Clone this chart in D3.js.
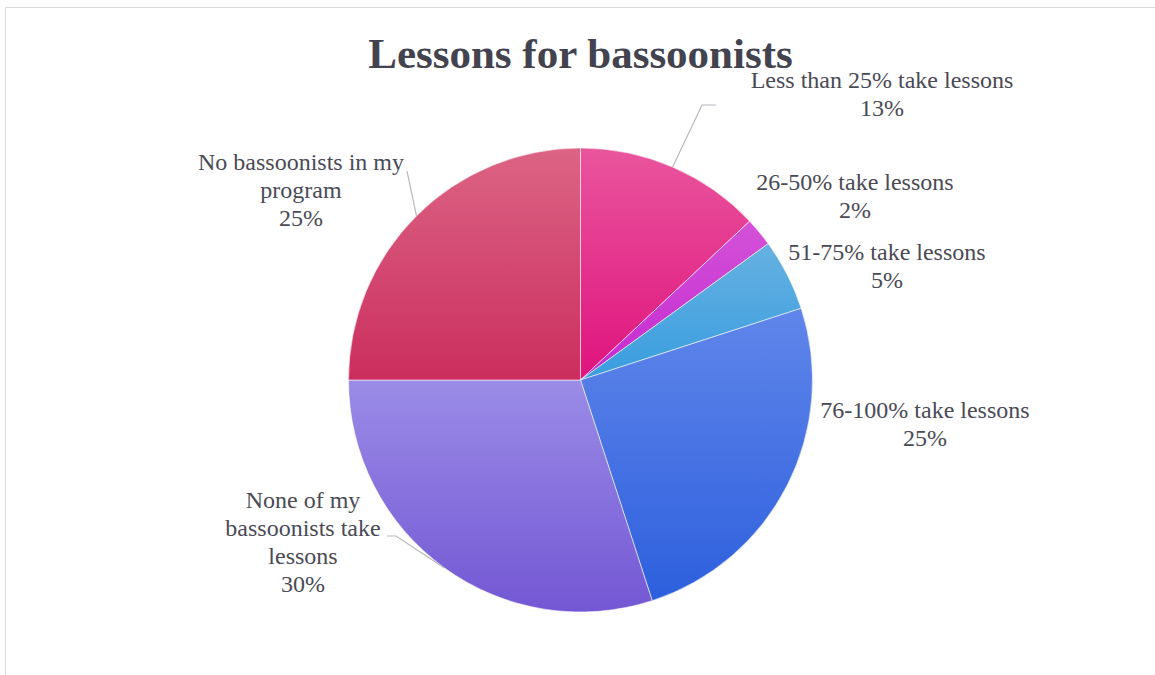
<!DOCTYPE html>
<html>
<head>
<meta charset="utf-8">
<script src="https://cdn.jsdelivr.net/npm/d3@7"></script>
<style>
  html, body { margin: 0; padding: 0; background: #fff; }
  svg { display: block; }
  text { font-family: "Liberation Serif", "Times New Roman", serif; }
</style>
</head>
<body>
<svg id="chart" width="1155" height="675"></svg>
<script>
// Survey answers: share of bassoonists taking private lessons
const categories = [
  "Less than 25% take lessons",
  "26-50% take lessons",
  "51-75% take lessons",
  "76-100% take lessons",
  "None of my bassoonists take lessons",
  "No bassoonists in my program"
];
const values = [13, 2, 5, 25, 30, 25];
// Label text split into lines as it is wrapped on the chart
const labelLines = [
  ["Less than 25% take lessons"],
  ["26-50% take lessons"],
  ["51-75% take lessons"],
  ["76-100% take lessons"],
  ["None of my", "bassoonists take", "lessons"],
  ["No bassoonists in my", "program"]
];
// Slice fills: [top, bottom] of each vertical gradient
const sliceColors = [
  ["#e9559d", "#df137d"],
  ["#d352d8", "#c428d0"],
  ["#66b1e1", "#389ddf"],
  ["#6086ea", "#2d5fdd"],
  ["#9b8ce7", "#7357d4"],
  ["#dc6484", "#cb2e5e"]
];

const W = 1155, H = 675;
const cx = 580.5, cy = 380, R = 232;

// Label block centres (x, y of first baseline) and leader-line elbows
const labelLayout = [
  { x: 882, y: 88,  leader: [[702, 105], [716, 105]] },
  { x: 855, y: 190, leader: null },
  { x: 887, y: 260, leader: null },
  { x: 925, y: 418, leader: null },
  { x: 303, y: 508, leader: [[396, 536], [387, 536]] },
  { x: 301, y: 170, leader: [[407, 171]] }
];

const svg = d3.select("#chart");

// Chart area frame
svg.append("path")
  .attr("d", `M5.5,${H} L5.5,7.5 L${W},7.5`)
  .attr("fill", "none")
  .attr("stroke", "#d9d9d9")
  .attr("stroke-width", 1);

const defs = svg.append("defs");
sliceColors.forEach((c, i) => {
  const g = defs.append("linearGradient")
    .attr("id", "grad" + i)
    .attr("x1", 0).attr("y1", 0).attr("x2", 0).attr("y2", 1);
  g.append("stop").attr("offset", "0%").attr("stop-color", c[0]);
  g.append("stop").attr("offset", "100%").attr("stop-color", c[1]);
});

const pie = d3.pie().sort(null).value(d => d)(values);
const arc = d3.arc().innerRadius(0).outerRadius(R);
const edge = d3.arc().innerRadius(R).outerRadius(R);

const g = svg.append("g").attr("transform", `translate(${cx},${cy})`);

g.selectAll("path.slice")
  .data(pie)
  .join("path")
  .attr("class", "slice")
  .attr("d", arc)
  .attr("fill", (d, i) => `url(#grad${i})`)
  .attr("stroke", "rgba(255,255,255,0.7)")
  .attr("stroke-width", 0.8);

// Leader lines from the slice edge to the label
pie.forEach((d, i) => {
  const lay = labelLayout[i];
  if (!lay.leader) return;
  const [ex, ey] = edge.centroid(d);
  const pts = [[cx + ex, cy + ey]].concat(lay.leader);
  svg.append("path")
    .attr("d", d3.line()(pts))
    .attr("fill", "none")
    .attr("stroke", "#b7b7bf")
    .attr("stroke-width", 1.2);
});

// Data labels: category name and percentage
const lineH = 28;
pie.forEach((d, i) => {
  const lay = labelLayout[i];
  const lines = labelLines[i].concat([values[i] + "%"]);
  const t = svg.append("text")
    .attr("text-anchor", "middle")
    .attr("font-size", 24)
    .attr("fill", "#4a4a55");
  lines.forEach((s, j) => {
    t.append("tspan")
      .attr("x", lay.x)
      .attr("y", lay.y + j * lineH)
      .text(s);
  });
});

// Title
svg.append("text")
  .attr("x", cx)
  .attr("y", 68)
  .attr("text-anchor", "middle")
  .attr("font-weight", "bold")
  .attr("font-size", 43)
  .attr("fill", "#43434f")
  .text("Lessons for bassoonists");
</script>
</body>
</html>
